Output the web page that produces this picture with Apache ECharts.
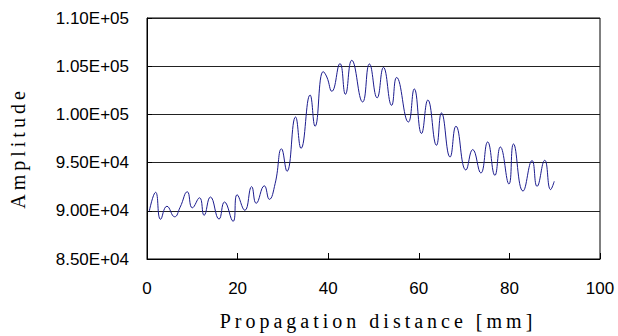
<!DOCTYPE html>
<html>
<head>
<meta charset="utf-8">
<script src="https://cdn.jsdelivr.net/npm/echarts@6/dist/echarts.min.js"></script>
<style>
html,body{margin:0;padding:0;background:#fff;}
#chart{width:618px;height:336px;}
</style>
</head>
<body>
<div id="chart"></div>
<script>
// Propagation distance [mm]
const distance = [0.5, 1.9, 3.0, 4.4, 6.1, 7.3, 8.9, 10.0, 11.6, 12.6, 14.0, 15.9, 17.1, 19.0, 19.9, 21.6, 23.1, 24.1, 25.9, 27.0, 28.3, 29.7, 30.9, 32.8, 34.0, 36.0, 37.1, 38.9, 39.7, 40.8, 42.6, 43.8, 45.2, 47.6, 49.1, 50.8, 52.2, 54.0, 55.1, 57.7, 59.0, 60.6, 62.0, 63.9, 65.0, 66.9, 68.2, 70.4, 71.9, 73.7, 75.2, 76.8, 78.0, 79.9, 80.9, 83.0, 85.0, 86.1, 87.8, 89.1, 89.9];
// Amplitude
const amplitude = [89950, 91920, 89120, 90470, 89380, 90360, 91970, 90310, 91350, 89530, 91430, 89140, 90910, 88910, 91660, 90050, 92510, 90780, 92590, 91190, 92850, 96430, 94100, 99730, 96480, 102010, 98770, 104440, 103880, 102400, 105270, 102090, 105610, 101290, 105230, 101720, 104870, 100940, 103830, 99210, 102640, 98020, 101490, 96800, 100150, 95580, 98770, 94230, 96350, 93920, 97140, 93680, 96620, 92780, 96930, 92050, 95210, 92540, 95240, 92200, 93060];
const xTicks = [0, 20, 40, 60, 80, 100];
const yTicks = [85000, 90000, 95000, 100000, 105000, 110000];
const xTitle = 'Propagation distance [mm]';
const yTitle = 'Amplitude';

function sci(v) {
  if (v === 0) return '0.00E+00';
  const e = Math.floor(Math.log10(Math.abs(v)) + 1e-9);
  const m = v / Math.pow(10, e);
  const es = (e < 0 ? '-' : '+') + String(Math.abs(e)).padStart(2, '0');
  return m.toFixed(2) + 'E' + es;
}

const chart = echarts.init(document.getElementById('chart'), null, {renderer: 'svg'});
const tickFont = {fontFamily: '"Liberation Sans", Arial, sans-serif', fontSize: 17, color: '#000'};
chart.setOption({
  animation: false,
  backgroundColor: '#fff',
  grid: {left: 147, right: 18, top: 18, bottom: 77, show: true, borderColor: '#000', borderWidth: 1},
  xAxis: {
    type: 'value', min: xTicks[0], max: xTicks[xTicks.length - 1], interval: 20,
    axisLine: {lineStyle: {color: '#000', width: 1}},
    axisTick: {inside: true, length: 6, lineStyle: {color: '#000'}},
    splitLine: {show: false},
    axisLabel: Object.assign({margin: 21}, tickFont)
  },
  yAxis: {
    type: 'value', min: yTicks[0], max: yTicks[yTicks.length - 1], interval: 5000,
    axisLine: {show: true, lineStyle: {color: '#000', width: 1}},
    axisTick: {show: true, inside: true, length: 5, lineStyle: {color: '#000'}},
    splitLine: {show: true, lineStyle: {color: '#222', width: 1}},
    axisLabel: Object.assign({margin: 18, formatter: sci}, tickFont)
  },
  graphic: [
    {type: 'text', id: 'xname', x: 378, y: 321,
     style: {text: xTitle, font: '20px "Liberation Serif", "Times New Roman", serif', fill: '#000', align: 'center', verticalAlign: 'middle'}},
    {type: 'text', id: 'yname', x: 17.5, y: 148, rotation: Math.PI / 2,
     style: {text: yTitle, font: '20px "Liberation Serif", "Times New Roman", serif', fill: '#000', align: 'center', verticalAlign: 'middle'}}
  ],
  series: [{
    type: 'line',
    data: distance.map((d, i) => [d, amplitude[i]]),
    symbol: 'none',
    smooth: 0.5,
    lineStyle: {color: '#1c1c8e', width: 1}
  }]
});
function spaceTitles() {
  document.querySelectorAll('#chart text').forEach(t => {
    const s = t.textContent;
    if (s === xTitle || s === yTitle) t.setAttribute('letter-spacing', '4');
  });
}
spaceTitles();
chart.on('finished', spaceTitles);
</script>
</body>
</html>
